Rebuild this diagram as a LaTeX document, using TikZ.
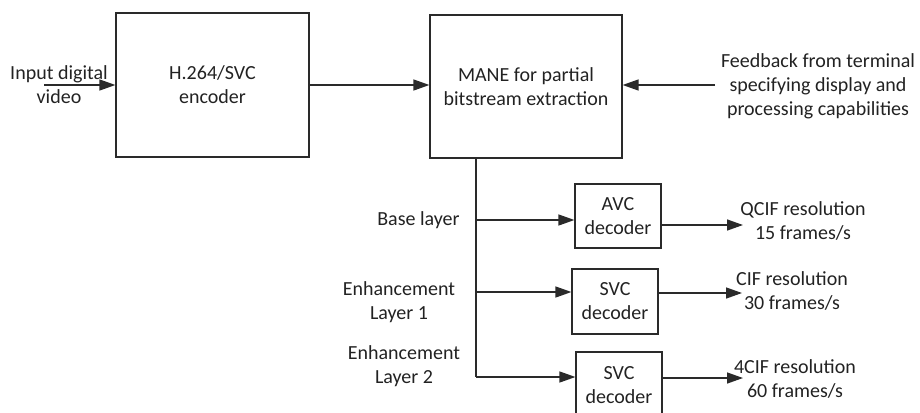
\documentclass[tikz,border=0pt]{standalone}
\usepackage{fontspec}
\setmainfont{Carlito}
\usetikzlibrary{arrows.meta}
\definecolor{textc}{HTML}{222222}
\definecolor{linec}{HTML}{2a2a2a}
\begin{document}
\begin{tikzpicture}[x=1pt,y=-1pt,
  every node/.style={text=textc, font=\fontsize{20}{24}\selectfont, align=center, inner sep=0pt},
  blk/.style={draw=linec, line width=1.2pt, minimum width=#1},
  conn/.style={draw=linec, line width=1.4pt},
  arr/.style={conn, -{Triangle[length=16pt,width=11pt]}}]
\useasboundingbox (0,0) rectangle (920,412);
% blocks
\node[blk=193, minimum height=144] (enc) at (212.5,85) {H.264/SVC\\encoder};
\node[blk=192, minimum height=143] (mane) at (526,86.5) {MANE for partial\\bitstream extraction};
\node[blk=86, minimum height=64] (avc) at (618,216) {AVC\\decoder};
\node[blk=86, minimum height=65] (svc1) at (615,301.5) {SVC\\decoder};
\node[blk=86, minimum height=66] (svc2) at (619,385) {SVC\\decoder};
% labels
\node (inlab) at (59,85) {Input digital\\video};
\node (fb) at (818,86) {Feedback from terminal\\specifying display and\\processing capabilities};
\node (bl) at (418.5,220) {Base layer};
\node (el1) at (399,302.5) {Enhancement\\Layer 1};
\node (el2) at (404,366.5) {Enhancement\\Layer 2};
\node (out1) at (803,221) {QCIF resolution\\15 frames/s};
\node (out2) at (792,290.5) {CIF resolution\\30 frames/s};
\node (out3) at (795,378.5) {4CIF resolution\\60 frames/s};
% coordinates
\coordinate (inS) at (44,85);
\coordinate (fbS) at (715,85);
\coordinate (j1) at (476,220);
\coordinate (j2) at (476,292);
\coordinate (j3) at (476,377);
\coordinate (o1) at (743,225);
\coordinate (o2) at (742,293);
\coordinate (o3) at (743,378);
% connectors
\draw[arr] (inS) -- (inS -| enc.west);
\draw[arr] (enc.east) -- (enc.east -| mane.west);
\draw[arr] (fbS) -- (fbS -| mane.east);
\draw[conn] (mane.south -| j1) -- (j3);
\draw[arr] (j1) -- (j1 -| avc.west);
\draw[arr] (j2) -- (j2 -| svc1.west);
\draw[arr] (j3) -- (j3 -| svc2.west);
\draw[arr] (o1 -| avc.east) -- (o1);
\draw[arr] (o2 -| svc1.east) -- (o2);
\draw[arr] (o3 -| svc2.east) -- (o3);
\end{tikzpicture}
\end{document}
